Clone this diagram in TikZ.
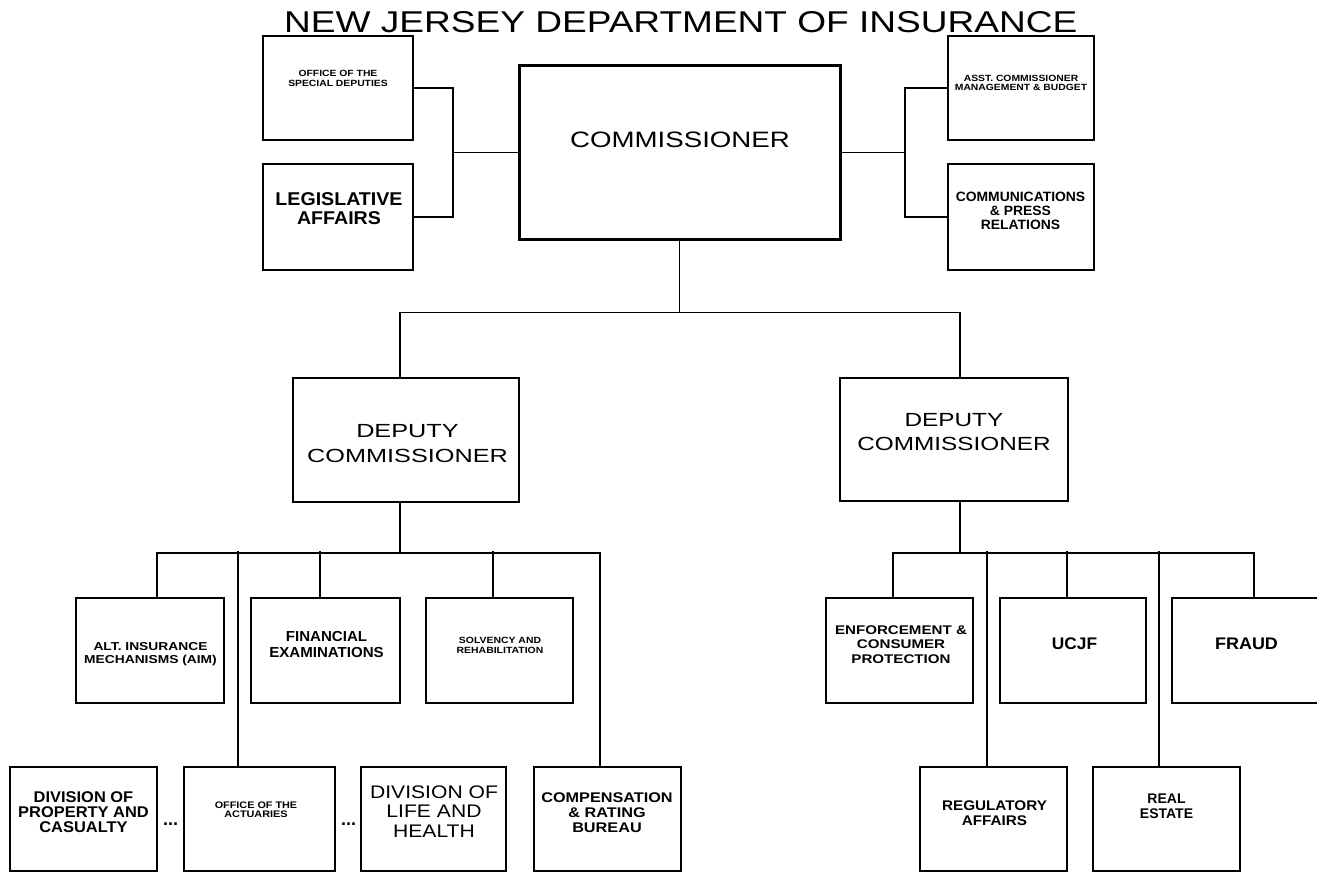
\documentclass[tikz,border=0pt]{standalone}
\usepackage{fontspec}
\usepackage{graphicx}
\setmainfont{Liberation Sans}
\usetikzlibrary{calc}
\newcommand\ml[2]{\scalebox{#1}[1]{\begin{tabular}[t]{@{}c@{}}#2\end{tabular}}}
\newcommand\fs[2]{\fontsize{#1}{#2}\selectfont}
\tikzset{
  box/.style={draw, line width=1.8pt, inner sep=0pt},
  bigbox/.style={draw, line width=3pt, inner sep=0pt},
  ln/.style={line width=1.8pt},
  txt/.style={anchor=base, inner sep=0pt},
}
\begin{document}
\begin{tikzpicture}[x=1pt,y=-1pt]
\useasboundingbox (0,0) rectangle (1317,872);
\fill[white] (0,0) rectangle (1317,872);

% title
\node[anchor=base west, inner sep=0pt] (title) at (284,33) {\resizebox{793pt}{21pt}{NEW JERSEY DEPARTMENT OF INSURANCE}};

% boxes
\node[box, minimum width=150pt, minimum height=104pt] (spd) at (338,88) {};
\node[box, minimum width=150pt, minimum height=106pt] (leg) at (338,217) {};
\node[bigbox, minimum width=321pt, minimum height=173pt] (com) at (679.5,152.5) {};
\node[box, minimum width=146pt, minimum height=104pt] (asst) at (1021,88) {};
\node[box, minimum width=146pt, minimum height=106pt] (comm) at (1021,217) {};
\node[box, minimum width=226pt, minimum height=124pt] (dep1) at (406,440) {};
\node[box, minimum width=228pt, minimum height=123pt] (dep2) at (954,439.5) {};
\node[box, minimum width=148pt, minimum height=105pt] (aim) at (150,650.5) {};
\node[box, minimum width=149pt, minimum height=105pt] (fin) at (325.5,650.5) {};
\node[box, minimum width=147pt, minimum height=105pt] (sol) at (499.5,650.5) {};
\node[box, minimum width=147pt, minimum height=104pt] (pc) at (83.5,819) {};
\node[box, minimum width=151pt, minimum height=104pt] (act) at (259.5,819) {};
\node[box, minimum width=145pt, minimum height=104pt] (lh) at (433.5,819) {};
\node[box, minimum width=147pt, minimum height=104pt] (crb) at (607.5,819) {};
\node[box, minimum width=147pt, minimum height=105pt] (enf) at (899.5,650.5) {};
\node[box, minimum width=146pt, minimum height=105pt] (ucjf) at (1073,650.5) {};
\node[box, minimum width=147pt, minimum height=105pt] (fraud) at (1245.5,650.5) {};
\node[box, minimum width=147pt, minimum height=104pt] (reg) at (993.5,819) {};
\node[box, minimum width=147pt, minimum height=104pt] (re) at (1166.5,819) {};

% texts
\node[txt, font=\bfseries\fs{9}{10}] (tspd) at (338,77) {\ml{1.15}{OFFICE OF THE\\SPECIAL DEPUTIES}};
\node[txt, font=\bfseries\fs{18.5}{19}] (tleg) at (339,205) {\ml{1.06}{LEGISLATIVE\\AFFAIRS}};
\node[txt, font=\fs{22.3}{24}] (tcom) at (680,148) {\ml{1.24}{COMMISSIONER}};
\node[txt, font=\bfseries\fs{9}{9}] (tasst) at (1021,82) {\ml{1.15}{ASST. COMMISSIONER\\MANAGEMENT \& BUDGET}};
\node[txt, font=\bfseries\fs{13.5}{14}] (tcomm) at (1020.5,201) {\ml{1.03}{COMMUNICATIONS\\\& PRESS\\RELATIONS}};
\node[txt, font=\fs{19}{25}] (tdep1) at (407.5,437) {\ml{1.33}{DEPUTY\\COMMISSIONER}};
\node[txt, font=\fs{19}{24}] (tdep2) at (954,426) {\ml{1.28}{DEPUTY\\COMMISSIONER}};
\node[txt, font=\bfseries\fs{11.5}{13}] (taim) at (150.5,650) {\ml{1.2}{ALT. INSURANCE\\MECHANISMS (AIM)}};
\node[txt, font=\bfseries\fs{14.5}{16}] (tfin) at (326.5,641) {\ml{1.04}{FINANCIAL\\EXAMINATIONS}};
\node[txt, font=\bfseries\fs{9}{10}] (tsol) at (500,643) {\ml{1.16}{SOLVENCY AND\\REHABILITATION}};
\node[txt, font=\bfseries\fs{15.5}{15}] (tpc) at (83.5,802) {\ml{1.06}{DIVISION OF\\PROPERTY AND\\CASUALTY}};
\node[txt, font=\bfseries\fs{9.5}{9}] (tact) at (256,808) {\ml{1.14}{OFFICE OF THE\\ACTUARIES}};
\node[txt, font=\fs{18.2}{19.5}] (tlh) at (434,798) {\ml{1.16}{DIVISION OF\\LIFE AND\\HEALTH}};
\node[txt, font=\bfseries\fs{14}{15}] (tcrb) at (607,802) {\ml{1.16}{COMPENSATION\\\& RATING\\BUREAU}};
\node[txt, font=\bfseries\fs{12.6}{14.5}] (tenf) at (901,634) {\ml{1.2}{ENFORCEMENT \&\\CONSUMER\\PROTECTION}};
\node[txt, font=\bfseries\fs{16.8}{17}] (tucjf) at (1074.5,649) {\ml{1.03}{UCJF}};
\node[txt, font=\bfseries\fs{16.8}{17}] (tfraud) at (1246.5,649) {\ml{1.07}{FRAUD}};
\node[txt, font=\bfseries\fs{14}{15}] (treg) at (994.5,810) {\ml{1.09}{REGULATORY\\AFFAIRS}};
\node[txt, font=\bfseries\fs{14}{15}] (tre) at (1166.5,803) {\ml{1.0}{REAL\\ESTATE}};
\node[txt, font=\bfseries\fs{18}{18}] (dots1) at (170.5,825) {...};
\node[txt, font=\bfseries\fs{18}{18}] (dots2) at (348.5,825) {...};

% connectors: top
\draw[ln] (spd.east) -- ++(39,0) coordinate (lv) |- (leg.east);
\draw[ln] (com.west) -- (com.west -| lv);
\draw[ln] (asst.west) -- ++(-42,0) coordinate (rv) |- (comm.west);
\draw[ln] (com.east) -- (com.east -| rv);
\draw[ln] (com.south) -- ++(0,72) coordinate (tb);
\draw[ln] ([xshift=-6pt]dep1.north) |- (tb) -| ([xshift=6pt]dep2.north);

% left branch
\draw[ln] ([xshift=-6pt]dep1.south) -- ++(0,50) coordinate (lb);
\draw[ln] ([xshift=7pt]aim.north) |- (lb) -| ([xshift=-7.5pt]crb.north);
\draw[ln] ([xshift=-5.5pt]fin.north) -- ++(0,-46);
\draw[ln] ([xshift=-6.5pt]sol.north) -- ++(0,-46);
\draw[ln] ([xshift=-21.5pt]act.north) -- ++(0,-215);

% right branch
\draw[ln] ([xshift=6pt]dep2.south) -- ++(0,51) coordinate (rb);
\draw[ln] ([xshift=-6.5pt]enf.north) |- (rb) -| ([xshift=8.5pt]fraud.north);
\draw[ln] ([xshift=-6pt]ucjf.north) -- ++(0,-46);
\draw[ln] ([xshift=-6.5pt]reg.north) -- ++(0,-215);
\draw[ln] ([xshift=-7.5pt]re.north) -- ++(0,-215);
\end{tikzpicture}
\end{document}
